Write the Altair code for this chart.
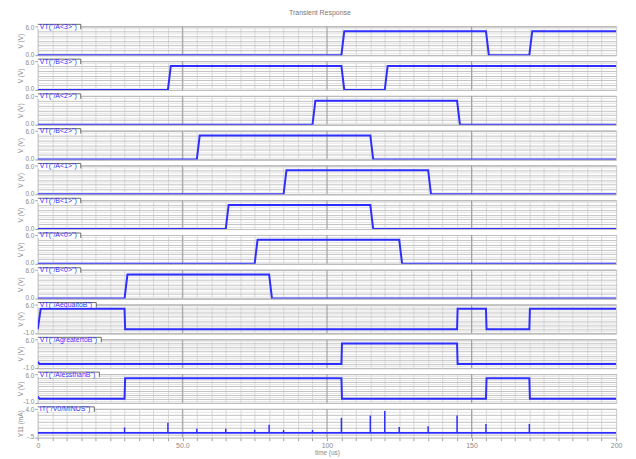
import altair as alt
import pandas as pd

# ---------------- data ----------------
labels = ['VT("/A<3>")', 'VT("/B<3>")', 'VT("/A<2>")', 'VT("/B<2>")',
          'VT("/A<1>")', 'VT("/B<1>")', 'VT("/A<0>")', 'VT("/B<0>")',
          'VT("/AequaltoB")', 'VT("/AgreatertoB")', 'VT("/AlessthanB")',
          'IT("/V0/MINUS")']

a3_t = [0, 105, 106, 155, 156, 170, 171, 200]
a3_v = [0, 0, 5, 5, 0, 0, 5, 5]
b3_t = [0, 45, 46, 105, 106, 120, 121, 200]
b3_v = [0, 0, 5, 5, 0, 0, 5, 5]
a2_t = [0, 95, 96, 145, 146, 200]
b2_t = [0, 55, 56, 115, 116, 200]
a1_t = [0, 85, 86, 135, 136, 200]
b1_t = [0, 65, 66, 115, 116, 200]
a0_t = [0, 75, 76, 125, 126, 200]
b0_t = [0, 30, 31, 80, 81, 200]
pulse_v = [0, 0, 5, 5, 0, 0]

eq_t = [0, 1, 30, 30.2, 145, 145.2, 155, 155.2, 170, 170.2, 200]
eq_v = [0, 5, 5, 0, 0, 5, 5, 0, 0, 5, 5]
gt_t = [0, 0.6, 105, 105.2, 145, 145.2, 200]
gt_v = [0.5, 0, 0, 5, 5, 0, 0]
lt_t = [0, 0.6, 30, 30.2, 105, 105.2, 155, 155.2, 170, 170.2, 200]
lt_v = [0.5, 0, 0, 5, 5, 0, 0, 5, 5, 0, 0]

i_base_t = [0, 200]
i_base_v = [0.25, 0.25]
spike_t = [30, 45, 55, 65, 75, 80, 85, 95, 105, 115, 120, 125, 135, 145, 155, 170]
spike_peak = [1.1, 1.85, 0.9, 0.9, 0.75, 1.5, 0.7, 0.7, 2.6, 2.95, 3.65, 1.15,
              1.3, 2.95, 1.65, 1.65]

x_label_vals = [0, 50, 100, 150, 200]
x_label_txt = ["0", "50.0", "100", "150", "200"]
major_x = [50, 100, 150]

# ---------------- styling ----------------
BLUE = "#2e2eff"
TXT = "#8a8a8a"
FONT = "Liberation Sans"
W = 582
H = 29

ARIAL = {"V": 667, "T": 611, "(": 333, ")": 333, '"': 355, "/": 278, "A": 667,
         "B": 667, "<": 584, ">": 584, "l": 222, "t": 278, "r": 333, "s": 500,
         "I": 278, "M": 833, "N": 722, "U": 722, "S": 667}


def text_w(s, fs):
    return sum(ARIAL.get(c, 556) for c in s) * fs / 1000.0


def x_axis(last):
    if not last:
        return alt.Axis(values=list(range(0, 201, 5)), labels=False, ticks=False,
                        domain=False, title=None, grid=True, gridColor="#d6d6d6")
    expr = " : ".join(f"datum.value == {v} ? '{s}'" for v, s in zip(x_label_vals, x_label_txt)) + " : ''"
    return alt.Axis(values=list(range(0, 201, 5)), labelExpr=expr, ticks=True,
                    tickSize=3, tickColor="#a0a0a0", domain=False, title="time (us)",
                    grid=True, gridColor="#d6d6d6", labelFontSize=7, labelColor=TXT,
                    labelFont=FONT, labelPadding=1, labelOverlap=False, labelFlush=False,
                    titleFontSize=6.5, titleColor=TXT, titleFont=FONT,
                    titleFontWeight="normal", titlePadding=1)


def y_axis(dmin, dmax, top_txt, bot_txt, ytitle):
    n = int(round((dmax - dmin) / 0.5))
    yvals = [dmin + 0.5 * k for k in range(n + 1)]
    grid_y = {"condition": {"test": "datum.value % 1 == 0", "value": "#c2c2c2"},
              "value": "#e3e3e3"}
    ends = f"datum.value == {dmin} || datum.value == {dmax}"
    expr = f"datum.value == {dmax} ? '{top_txt}' : datum.value == {dmin} ? '{bot_txt}' : ''"
    return alt.Axis(values=yvals, labelExpr=expr, grid=True, gridColor=grid_y,
                    ticks=True, tickSize=3, tickColor="#a0a0a0",
                    tickOpacity={"condition": {"test": ends, "value": 1}, "value": 0},
                    domain=False, title=ytitle, titleFontSize=6.5, titleColor=TXT,
                    titleFont=FONT, titleFontWeight="normal", titlePadding=2,
                    minExtent=12, maxExtent=12, labelFontSize=6.5, labelColor=TXT,
                    labelFont=FONT, labelPadding=1, labelFlush=False, labelOverlap=False,
                    labelOffset={"condition": {"test": f"datum.value == {dmax}", "value": 1},
                                 "value": -1})


def tab_layers(label):
    d = alt.Data(values=[{"k": 1}])
    w = text_w(label, 7) + 6
    rect = alt.Chart(d).mark_rect(fill="white").encode(
        x=alt.value(0), x2=alt.value(w), y=alt.value(-2), y2=alt.value(3))
    top = alt.Chart(d).mark_rule(color="#444", strokeWidth=0.8).encode(
        x=alt.value(0), x2=alt.value(w), y=alt.value(-2))
    right = alt.Chart(d).mark_rule(color="#444", strokeWidth=0.8).encode(
        x=alt.value(w), y=alt.value(-2), y2=alt.value(3))
    txt = alt.Chart(d).mark_text(text=label, align="left", baseline="middle",
                                 fontSize=7, font=FONT, color=BLUE).encode(
        x=alt.value(2), y=alt.value(0.5))
    return [rect, top, right, txt]


def panel(t, v, label, dmin, dmax, top_txt, bot_txt, ytitle, last=False, spikes=False):
    df = pd.DataFrame({"t": t, "v": v, "i": list(range(len(t)))})
    xs = alt.Scale(domain=[0, 200], nice=False, zero=False)
    ys = alt.Scale(domain=[dmin, dmax], nice=False, zero=False)
    xa = x_axis(last)
    ya = y_axis(dmin, dmax, top_txt, bot_txt, ytitle)
    gdf = pd.DataFrame({"g": major_x})
    major = alt.Chart(gdf).mark_rule(color="#a2a2a2", strokeWidth=1).encode(
        x=alt.X("g:Q", scale=xs, axis=xa))
    line = alt.Chart(df).mark_line(color=BLUE, strokeWidth=2 if not spikes else 1.6,
                                   clip=True).encode(
        x=alt.X("t:Q", scale=xs, axis=xa),
        y=alt.Y("v:Q", scale=ys, axis=ya),
        order="i:Q")
    layers = [major, line]
    if spikes:
        sdf = pd.DataFrame({"t": spike_t, "p": spike_peak,
                            "b": [i_base_v[0]] * len(spike_t)})
        rules = alt.Chart(sdf).mark_rule(color=BLUE, strokeWidth=1.5).encode(
            x=alt.X("t:Q", scale=xs, axis=xa),
            y=alt.Y("b:Q", scale=ys, axis=ya),
            y2="p:Q")
        layers.append(rules)
    layers += tab_layers(label)
    return alt.layer(*layers).properties(width=W, height=H)


panels = [
    panel(a3_t, a3_v, labels[0], 0, 6, "6.0", "0.0", "V (V)"),
    panel(b3_t, b3_v, labels[1], 0, 6, "6.0", "0.0", "V (V)"),
    panel(a2_t, pulse_v, labels[2], 0, 6, "6.0", "0.0", "V (V)"),
    panel(b2_t, pulse_v, labels[3], 0, 6, "6.0", "0.0", "V (V)"),
    panel(a1_t, pulse_v, labels[4], 0, 6, "6.0", "0.0", "V (V)"),
    panel(b1_t, pulse_v, labels[5], 0, 6, "6.0", "0.0", "V (V)"),
    panel(a0_t, pulse_v, labels[6], 0, 6, "6.0", "0.0", "V (V)"),
    panel(b0_t, pulse_v, labels[7], 0, 6, "6.0", "0.0", "V (V)"),
    panel(eq_t, eq_v, labels[8], -1, 6, "6.0", "-1.0", "V (V)"),
    panel(gt_t, gt_v, labels[9], -1, 6, "6.0", "-1.0", "V (V)"),
    panel(lt_t, lt_v, labels[10], -1, 6, "6.0", "-1.0", "V (V)"),
    panel(i_base_t, i_base_v, labels[11], -0.5, 4.0, "4.0", "-.5", "Y11 (mA)",
          last=True, spikes=True),
]

chart = alt.vconcat(*panels, spacing=6, bounds="flush").properties(
    title=alt.TitleParams("Transient Response", fontSize=7, color="#777", font=FONT,
                          fontWeight="normal", anchor="middle", offset=6),
    padding={"left": 9, "top": 0, "right": 5, "bottom": 0},
).configure_view(stroke="#8c8c8c", strokeWidth=1)

chart.save("out.html", embed_options={"renderer": "svg", "actions": False})
